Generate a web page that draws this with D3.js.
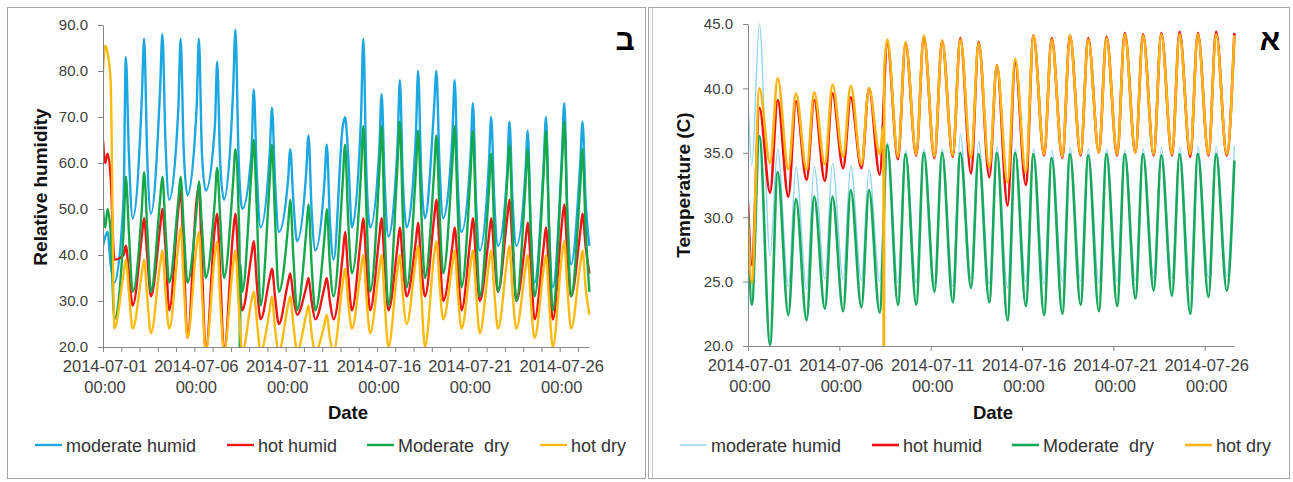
<!DOCTYPE html>
<html lang="en">
<head>
<meta charset="UTF-8">
<title>Relative humidity and temperature</title>
<script src="https://cdn.jsdelivr.net/npm/d3@7"></script>
<style>
  * { margin: 0; padding: 0; }
  body { background: #fff; width: 1293px; height: 482px; overflow: hidden; }
  svg text { font-family: "Liberation Sans", Arial, sans-serif; }
</style>
</head>
<body>
<svg id="chart" width="1293" height="482"></svg>
<script>
// ---- data ----
var seriesNames = ["moderate humid", "hot humid", "Moderate  dry", "hot dry"];
var tickDays = [0, 5, 10, 15, 20, 25];
var tickDates = ["2014-07-01", "2014-07-06", "2014-07-11", "2014-07-16", "2014-07-21", "2014-07-26"];
var tickTime = "00:00";
var rhTicks = [20, 30, 40, 50, 60, 70, 80, 90];
var tempTicks = [20, 25, 30, 35, 40, 45];
var dayCount = 27;
var rhHours = [3, 6, 10, 15];   // hours of the day sampled for humidity (after 07-01 00:00)
var tempHours = [5, 15];        // hours of the day sampled for temperature

// relative humidity: value at 07-01 00:00, then 4 per day
var rhModerateHumid = [42,
  44,45,38,34,  52,83,62,48,  74,87,62,49,  76,88,65,52,  72,87,63,53,
  72,87,62,54,  68,82,60,52,  76,89,62,50,  62,76,58,46,  62,72,56,45,
  56,63,52,43,  58,66,50,41,  56,64,48,39,  68,70,62,46,  70,87,58,46,
  63,75,56,44,  64,78,56,46,  66,80,58,48,  72,80,60,48,  66,78,56,45,
  62,73,52,41,  60,70,52,42,  58,69,52,42,  58,67,46,34,  60,70,46,33,
  62,73,50,38,  60,69,52,42];
var rhHotHumid = [65,
  60,62,57,39,  40,42,36,29,  44,48,40,31,  46,50,42,28,  50,54,40,22,
  52,55,38,19,  46,49,36,19,  45,49,38,28,  40,43,34,26,  35,37,31,25,
  34,36,31,27,  33,35,30,26,  33,35,30,26,  40,45,36,28,  44,48,38,28,
  44,48,38,28,  42,46,38,31,  43,47,38,31,  48,52,42,30,  42,46,38,28,
  44,48,39,30,  44,48,40,32,  48,52,42,30,  43,47,38,26,  42,46,36,26,
  47,51,40,31,  45,49,42,36];
var rhModerateDry = [50,
  46,50,45,26,  45,57,45,32,  50,58,46,32,  52,57,46,34,  52,57,46,34,
  50,56,46,35,  52,59,48,35,  56,63,50,32,  58,65,50,29,  56,64,48,32,
  46,52,40,28,  45,51,38,28,  44,50,38,31,  56,64,48,36,  58,68,50,32,
  58,68,46,29,  60,69,48,33,  58,67,50,35,  58,66,50,36,  60,68,50,33,
  58,67,48,31,  54,62,46,32,  56,64,46,30,  55,63,45,31,  58,67,46,28,
  60,69,48,31,  55,63,46,32];
var rhHotDry = [80,
  85.5,84,78,24,  36,39,32,24,  36,39,31,23,  38,41,32,24,  42,46,34,22,
  42,45,32,19,  40,43,30,19,  38,41,30,19,  30,32,26,19,  28,31,24,19,
  29,31,25,19,  27,29,23,19,  25,27,22,19,  34,37,30,24,  37,40,31,23,
  37,40,30,20,  37,40,31,25,  39,42,32,20,  40,43,34,26,  38,41,32,24,
  38,41,32,23,  38,41,32,24,  39,42,32,24,  37,40,30,22,  37,40,30,20,
  40,43,33,24,  38,41,33,27];
// logger drop-out, [hour, value]
var rhModerateDryDrop = [[179.5, 40], [180, 0], [180.5, 38]];

// temperature: value at 07-01 00:00, then 05:00 and 15:00 of each day
var tModerateHumid = [39.2,
  34.0,45.0, 27.0,35.3, 24.6,33.9, 24.4,33.9, 25.2,34.2, 25.2,34.0, 25.1,33.7,
  25.0,35.8, 24.9,35.2, 24.9,35.3, 24.8,35.3, 24.6,36.4, 25.2,35.9, 24.8,35.5,
  24.5,35.3, 25.0,35.3, 24.8,35.2, 25.0,35.4, 25.0,35.3, 24.9,35.3, 25.0,35.2,
  25.1,35.3, 25.3,35.4, 25.2,35.4, 24.8,35.5, 25.3,35.5, 25.4,35.5];
var tHotHumid = [31.1,
  26.3,38.5, 31.9,39.1, 31.6,39.0, 32.9,39.1, 32.8,39.6, 33.8,39.3, 33.8,40.0,
  33.3,43.5, 34.5,43.5, 34.8,44.0, 34.6,43.7, 34.7,43.9, 33.4,43.6, 33.1,41.8,
  30.9,42.0, 32.5,44.1, 34.8,43.9, 34.6,44.1, 34.8,43.9, 35.0,44.0, 34.8,44.3,
  35.0,44.2, 34.8,44.3, 34.8,44.4, 34.7,44.3, 34.8,44.4, 34.8,44.3];
var tModerateDry = [30.3,
  23.2,36.3, 20.1,33.5, 22.4,31.4, 22.0,31.6, 22.9,31.6, 22.7,32.1, 23.0,32.1,
  22.6,35.6, 23.2,34.9, 23.2,35.0, 24.2,35.0, 23.4,35.0, 24.5,34.9, 23.4,35.0,
  22.0,35.0, 23.1,34.9, 22.4,34.6, 22.5,34.9, 23.2,34.8, 22.7,34.9, 23.1,34.9,
  23.7,34.9, 24.3,34.8, 23.9,34.9, 22.5,34.9, 23.8,34.9, 24.3,34.4];
var tHotDry = [29.8,
  24.9,40.0, 34.2,40.8, 33.7,39.6, 33.7,39.7, 34.1,40.3, 34.7,40.2, 34.1,40.0,
  34.9,43.8, 34.7,43.6, 34.9,44.1, 34.7,43.7, 34.8,43.8, 34.6,43.5, 33.9,41.8,
  32.7,42.3, 33.5,44.1, 34.9,43.8, 34.7,44.1, 34.9,43.8, 35.0,43.9, 34.9,44.2,
  35.0,44.1, 34.9,44.2, 34.9,44.2, 34.9,44.2, 34.9,44.2, 34.9,44.1];
var tHotDryDrop = [[178, 37], [178.5, 0], [179, 41.5]];

// ---- helpers ----
var axisEndHour = 638.5;

function buildTimes(hours) {
  var t = [0];
  for (var d = 0; d < dayCount; d++) {
    hours.forEach(function(h) { t.push(d * 24 + h); });
  }
  return t;
}

function toPoints(times, values, extra) {
  var pts = values.map(function(v, i) { return { t: times[i], v: v }; });
  (extra || []).forEach(function(e) { pts.push({ t: e[0], v: e[1] }); });
  return pts.sort(function(a, b) { return a.t - b.t; });
}

var svg = d3.select("#chart");

// frames
svg.append("rect").attr("x", 7.5).attr("y", 7.5).attr("width", 638).attr("height", 471)
  .attr("fill", "none").attr("stroke", "#a6a6a6");
svg.append("rect").attr("x", 648.5).attr("y", 7.5).attr("width", 641).attr("height", 471)
  .attr("fill", "none").attr("stroke", "#a6a6a6");
svg.append("line").attr("x1", 652.5).attr("x2", 652.5).attr("y1", 7.5).attr("y2", 478.5)
  .attr("stroke", "#c8c8c8");

function drawPanel(cfg, idx) {
  var g = svg.append("g");
  var x = d3.scaleLinear().domain([0, axisEndHour]).range([cfg.x0, cfg.x1]);
  var y = d3.scaleLinear().domain([cfg.yTicks[0], cfg.yTicks[cfg.yTicks.length - 1]])
    .range([cfg.bottom, cfg.top]);

  var clipId = "clip" + idx;
  g.append("clipPath").attr("id", clipId).append("rect")
    .attr("x", cfg.x0).attr("y", cfg.top - 10)
    .attr("width", cfg.x1 - cfg.x0 + 4).attr("height", cfg.bottom - cfg.top + 10);

  var line = d3.line()
    .x(function(d) { return x(d.t); })
    .y(function(d) { return y(d.v); })
    .curve(d3.curveMonotoneX);

  var plot = g.append("g").attr("clip-path", "url(#" + clipId + ")");
  cfg.series.forEach(function(s) {
    plot.append("path")
      .attr("d", line(toPoints(cfg.times, s.values, s.extra)))
      .attr("fill", "none")
      .attr("stroke", s.color)
      .attr("stroke-width", s.width)
      .attr("stroke-linejoin", "round");
  });

  // y axis
  var yAxis = g.append("g").attr("transform", "translate(" + cfg.x0 + ",0)")
    .call(d3.axisLeft(y).tickValues(cfg.yTicks).tickFormat(d3.format(".1f"))
      .tickSize(5).tickSizeOuter(0).tickPadding(10));
  yAxis.select(".domain").attr("stroke", "#868686");
  yAxis.selectAll(".tick line").attr("stroke", "#868686");
  yAxis.selectAll(".tick text").attr("font-size", 15).attr("fill", "#404040")
    .attr("font-family", "Liberation Sans, Arial, sans-serif");

  // x axis
  var xTickHours = cfg.dailyTicks ? d3.range(0, axisEndHour, 24) : tickDays.map(function(d) { return d * 24; });
  var xAxis = g.append("g").attr("transform", "translate(0," + cfg.bottom + ")")
    .call(d3.axisBottom(x).tickValues(xTickHours).tickFormat("").tickSize(5).tickSizeOuter(0));
  xAxis.select(".domain").attr("stroke", "#868686");
  xAxis.selectAll(".tick line").attr("stroke", "#868686");

  var labels = g.append("g").selectAll("text").data(tickDays).enter().append("text")
    .attr("x", function(d) { return x(d * 24) + 2; })
    .attr("text-anchor", "middle")
    .attr("font-size", 16.5)
    .attr("fill", "#404040");
  labels.append("tspan").attr("y", cfg.bottom + 25)
    .text(function(d, i) { return tickDates[i]; });
  labels.append("tspan").attr("x", function(d) { return x(d * 24) + 2; })
    .attr("y", cfg.bottom + 46).text(tickTime);

  // axis titles
  g.append("text")
    .attr("x", (cfg.x0 + cfg.x1) / 2 + 2).attr("y", 419)
    .attr("text-anchor", "middle").attr("font-size", 18.5).attr("font-weight", "bold")
    .attr("fill", "#111").text("Date");
  g.append("text")
    .attr("transform", "translate(" + cfg.titleX + "," + cfg.titleY + ") rotate(-90)")
    .attr("text-anchor", "middle").attr("dy", "0.35em")
    .attr("font-size", 19).attr("font-weight", "bold")
    .attr("fill", "#111").text(cfg.yTitle);

  // panel letter
  g.append("text")
    .attr("x", cfg.letterX).attr("y", 50)
    .attr("text-anchor", "middle").attr("font-size", 30).attr("font-weight", "bold")
    .attr("font-family", "DejaVu Sans, sans-serif")
    .attr("fill", "#000").text(cfg.letter);

  // legend
  var leg = g.append("g").selectAll("g").data(cfg.series).enter().append("g")
    .attr("transform", function(d, i) { return "translate(" + cfg.legendX[i] + ",445)"; });
  leg.append("line").attr("x1", 0).attr("x2", 27).attr("y1", 0).attr("y2", 0)
    .attr("stroke", function(d) { return d.color; })
    .attr("stroke-width", function(d) { return d.width; });
  leg.append("text").attr("x", 31).attr("y", 6.5)
    .attr("font-size", 18).attr("fill", "#333")
    .style("white-space", "pre")
    .text(function(d) { return d.name; });
}

var rhTimes = buildTimes(rhHours);
var tempTimes = buildTimes(tempHours);

drawPanel({
  x0: 103, x1: 589, top: 25, bottom: 347,
  yTicks: rhTicks, times: rhTimes, dailyTicks: true,
  yTitle: "Relative humidity", titleX: 40, titleY: 187,
  letter: "ב", letterX: 625,
  legendX: [35, 227, 367, 540],
  series: [
    { name: seriesNames[0], values: rhModerateHumid, color: "#1ca7e0", width: 2.4 },
    { name: seriesNames[1], values: rhHotHumid, color: "#f01515", width: 2.4 },
    { name: seriesNames[2], values: rhModerateDry, extra: rhModerateDryDrop, color: "#15a84b", width: 2.4 },
    { name: seriesNames[3], values: rhHotDry, color: "#fdbb12", width: 2.4 }
  ]
}, 0);

drawPanel({
  x0: 748, x1: 1234, top: 24, bottom: 346,
  yTicks: tempTicks, times: tempTimes, dailyTicks: false,
  yTitle: "Temperature (C)", titleX: 683, titleY: 185,
  letter: "א", letterX: 1270,
  legendX: [680, 872, 1012, 1185],
  series: [
    { name: seriesNames[0], values: tModerateHumid, color: "#92d3f0", width: 1.4 },
    { name: seriesNames[1], values: tHotHumid, color: "#f01010", width: 2.6 },
    { name: seriesNames[2], values: tModerateDry, color: "#17a85c", width: 2.6 },
    { name: seriesNames[3], values: tHotDry, extra: tHotDryDrop, color: "#fdb515", width: 2.6 }
  ]
}, 1);
</script>
</body>
</html>
